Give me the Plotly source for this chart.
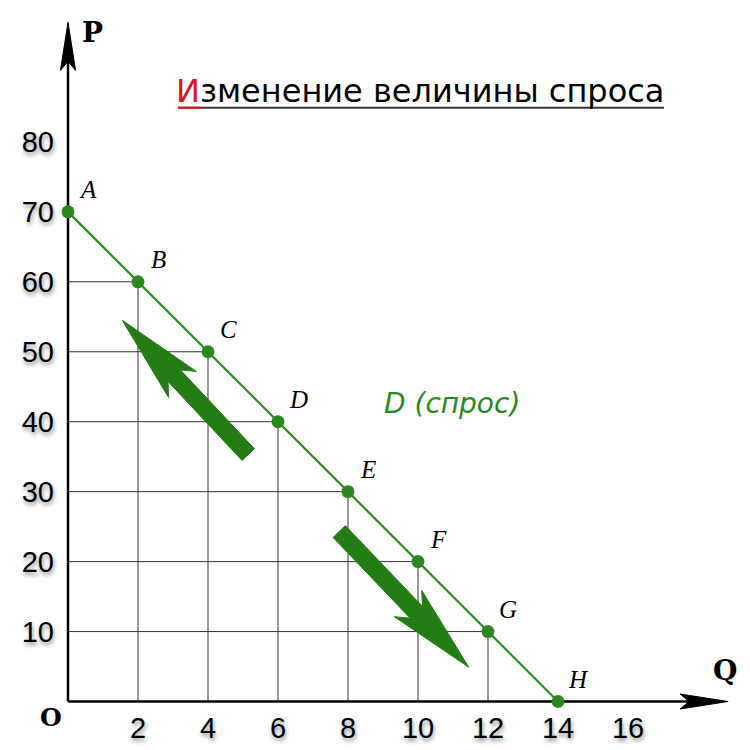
import plotly.graph_objects as go

# ---------------- data ----------------
quantity = [0, 2, 4, 6, 8, 10, 12, 14]
price = [70, 60, 50, 40, 30, 20, 10, 0]
point_labels = ["A", "B", "C", "D", "E", "F", "G", "H"]
x_tick_values = [2, 4, 6, 8, 10, 12, 14, 16]
y_tick_values = [10, 20, 30, 40, 50, 60, 70, 80]
title_first = "И"
title_rest = "зменение величины спроса"
curve_label = "D (спрос)"
axis_x_name = "Q"
axis_y_name = "P"
origin_name = "O"

# movement arrows (data coordinates: tail -> tip)
arrow_up_tail, arrow_up_tip = (5.15, 35.3), (1.55, 54.5)
arrow_down_tail, arrow_down_tip = (7.75, 24.3), (11.45, 4.9)

# ---------------- layout constants ----------------
# the page body has an 8px margin, so the figure is 742x742
W, H = 742, 742
X_RANGE = [-1.0, 19.4]
Y_RANGE = [-1.5, 98]
PX_X = 35.0
PX_Y = 7.0
ML = 25
MR = W - ML - int(round((X_RANGE[1] - X_RANGE[0]) * PX_X))
MB = 37.5
MT = H - MB - (Y_RANGE[1] - Y_RANGE[0]) * PX_Y
X_AXIS_END = 18.86
Y_AXIS_END = 97.1

GREEN = "#2b8a1f"
ARROW_GREEN = "#237c14"


def to_px(x, y):
    return x * PX_X, -y * PX_Y


def to_data(px, py):
    return px / PX_X, -py / PX_Y


def arrow_polygon(tail, tip, shaft_w, head_w, head_len, neck_len):
    tx, ty = to_px(*tail)
    hx, hy = to_px(*tip)
    L = ((hx - tx) ** 2 + (hy - ty) ** 2) ** 0.5
    ux, uy = (hx - tx) / L, (hy - ty) / L
    nx, ny = -uy, ux

    def p(along_from_tip, perp):
        return (hx - ux * along_from_tip + nx * perp, hy - uy * along_from_tip + ny * perp)

    pts = [
        p(L, shaft_w / 2), p(neck_len, shaft_w / 2), p(head_len, head_w / 2),
        p(0, 0),
        p(head_len, -head_w / 2), p(neck_len, -shaft_w / 2), p(L, -shaft_w / 2),
        p(L, shaft_w / 2),
    ]
    xs, ys = zip(*[to_data(a, b) for a, b in pts])
    return list(xs), list(ys)


def stealth_head(tail, tip, length, width, notch):
    tx, ty = to_px(*tail)
    hx, hy = to_px(*tip)
    L = ((hx - tx) ** 2 + (hy - ty) ** 2) ** 0.5
    ux, uy = (hx - tx) / L, (hy - ty) / L
    nx, ny = -uy, ux
    pts = [
        (hx, hy),
        (hx - ux * length + nx * width / 2, hy - uy * length + ny * width / 2),
        (hx - ux * (length - notch), hy - uy * (length - notch)),
        (hx - ux * length - nx * width / 2, hy - uy * length - ny * width / 2),
        (hx, hy),
    ]
    xs, ys = zip(*[to_data(a, b) for a, b in pts])
    return list(xs), list(ys)


fig = go.Figure()

# drop lines (grid under each point)
gx, gy = [], []
for q, p in zip(quantity, price):
    if q > 0 and p > 0:
        gx += [q, q, None, 0, q, None]
        gy += [0, p, None, p, p, None]
fig.add_trace(go.Scatter(x=gx, y=gy, mode="lines", line=dict(color="#333333", width=1),
                         hoverinfo="skip", showlegend=False))

# axes with arrowheads
fig.add_trace(go.Scatter(x=[0, X_AXIS_END - 0.6], y=[0, 0], mode="lines",
                         line=dict(color="black", width=2.5), showlegend=False,
                         hoverinfo="skip"))
fig.add_trace(go.Scatter(x=[0, 0], y=[0, Y_AXIS_END - 3], mode="lines",
                         line=dict(color="black", width=2.5), showlegend=False,
                         hoverinfo="skip"))
for tail, tip in [((0, 0), (X_AXIS_END, 0)), ((0, 0), (0, Y_AXIS_END))]:
    hx, hy = stealth_head(tail, tip, 48, 15, 9)
    fig.add_trace(go.Scatter(x=hx, y=hy, mode="lines", fill="toself", fillcolor="black",
                             line=dict(color="black", width=1), showlegend=False,
                             hoverinfo="skip"))

# movement arrows
for tail, tip in [(arrow_up_tail, arrow_up_tip), (arrow_down_tail, arrow_down_tip)]:
    ax_, ay_ = arrow_polygon(tail, tip, 17, 38, 88, 76)
    fig.add_trace(go.Scatter(x=ax_, y=ay_, mode="lines", fill="toself", fillcolor=ARROW_GREEN,
                             line=dict(color=ARROW_GREEN, width=1), showlegend=False,
                             hoverinfo="skip"))

# demand curve
fig.add_trace(go.Scatter(x=quantity, y=price, mode="lines+markers",
                         line=dict(color=GREEN, width=2.2),
                         marker=dict(color=GREEN, size=13),
                         showlegend=False, cliponaxis=False))

# point labels
for q, p, lab in zip(quantity, price, point_labels):
    fig.add_annotation(x=q, y=p, text=lab, showarrow=False, xshift=20, yshift=22,
                       font=dict(family="Liberation Serif", size=25, color="black", style="italic"))

# curve label
fig.add_annotation(x=10.97, y=42.6, text=curve_label, showarrow=False,
                   font=dict(family="DejaVu Sans", size=28, color=GREEN, style="italic"))

# title
fig.add_annotation(x=10.06, y=87.3, showarrow=False,
                   text=f"<span style='color:#e0141e'>{title_first}</span>{title_rest}",
                   font=dict(family="DejaVu Sans", size=32, color="black"))
fig.add_shape(type="line", x0=3.14, x1=17.03, y0=84.9, y1=84.9, line=dict(color="#333333", width=2))
fig.add_shape(type="line", x0=3.14, x1=3.8, y0=84.9, y1=84.9, line=dict(color="#e0141e", width=2))

# axis names
fig.add_annotation(x=0.69, y=95.6, text=f"<b>{axis_y_name}</b>", showarrow=False,
                   font=dict(family="DejaVu Serif", size=28, color="black"))
fig.add_annotation(x=18.77, y=4.4, text=f"<b>{axis_x_name}</b>", showarrow=False,
                   font=dict(family="DejaVu Serif", size=28, color="black"))
fig.add_annotation(x=0, y=0, xshift=-17, yshift=-16, text=f"<b>{origin_name}</b>", showarrow=False,
                   font=dict(family="DejaVu Serif", size=25, color="black"))

tickfont = dict(family="Liberation Sans", size=29, color="black",
                shadow="1px 3px 4px rgba(0,0,0,0.45)")
fig.update_xaxes(range=X_RANGE, tickvals=x_tick_values, ticktext=[str(v) for v in x_tick_values],
                 showgrid=False, zeroline=False, showline=False, ticks="",
                 anchor="free", position=(0 - Y_RANGE[0]) / (Y_RANGE[1] - Y_RANGE[0]),
                 tickfont=tickfont, ticklabelstandoff=6, fixedrange=True)
fig.update_yaxes(range=Y_RANGE, tickvals=y_tick_values, ticktext=[str(v) for v in y_tick_values],
                 showgrid=False, zeroline=False, showline=False, ticks="",
                 anchor="free", position=(0 - X_RANGE[0]) / (X_RANGE[1] - X_RANGE[0]),
                 tickfont=tickfont, ticklabelstandoff=14, fixedrange=True)

fig.update_layout(width=W, height=H, margin=dict(l=ML, r=MR, t=MT, b=MB, autoexpand=False),
                  plot_bgcolor="white", paper_bgcolor="white", showlegend=False)

fig.write_html("out.html")
